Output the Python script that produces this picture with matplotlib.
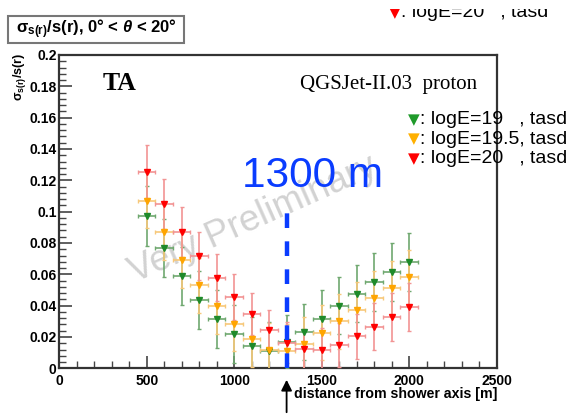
import matplotlib
matplotlib.use("Agg")
import matplotlib.pyplot as plt
from matplotlib.patches import Rectangle
from matplotlib.ticker import MultipleLocator

plt.rcParams['mathtext.fontset'] = 'custom'
plt.rcParams['mathtext.rm'] = 'Liberation Sans:bold'
plt.rcParams['mathtext.it'] = 'Liberation Sans:bold:italic'
plt.rcParams['mathtext.bf'] = 'Liberation Sans:bold'

# ---------------- data ----------------
dist = [500, 600, 700, 800, 900, 1000, 1100, 1200, 1300, 1400, 1500, 1600, 1700, 1800, 1900, 2000]
dist_err = [50] * 16

sig_19 = [0.0973, 0.0769, 0.0588, 0.0434, 0.0313, 0.0220, 0.0143, 0.0112, 0.0170,
          0.0230, 0.0315, 0.0400, 0.0477, 0.0548, 0.0613, 0.0677]
err_19 = [0.019, 0.0186, 0.0186, 0.0185, 0.0185, 0.0185, 0.0185, 0.0185, 0.0170,
          0.018, 0.0185, 0.018, 0.018, 0.0185, 0.0185, 0.0185]

sig_195 = [0.1070, 0.0869, 0.0690, 0.0530, 0.0396, 0.0283, 0.0185, 0.0115, 0.0108,
           0.0152, 0.0226, 0.0300, 0.0375, 0.0449, 0.0513, 0.0580]
err_195 = [0.0175] * 16

sig_20 = [0.1254, 0.1050, 0.0870, 0.0716, 0.0577, 0.0456, 0.0345, 0.0243, 0.0163,
          0.0121, 0.0120, 0.0151, 0.0204, 0.0264, 0.0328, 0.0392]
err_20 = [0.017, 0.016, 0.016, 0.0155, 0.015, 0.0145, 0.0135, 0.013, 0.013,
          0.013, 0.0135, 0.014, 0.0145, 0.015, 0.0155, 0.0155]

series = [
    ("logE=19   , tasd", sig_19, err_19, '#1f8a2a', '#6fa86f'),
    ("logE=19.5, tasd", sig_195, err_195, '#ffa500', '#f7c87a'),
    ("logE=20   , tasd", sig_20, err_20, '#ff0000', '#f29494'),
]

# ---------------- figure ----------------
W, H = 575, 415
fig = plt.figure(figsize=(W / 100, H / 100), dpi=100)
ax = fig.add_axes([59.3 / W, 1 - 368.3 / H, 437.2 / W, 313.3 / H])

for label, y, yerr, mcol, ecol in series:
    ax.errorbar(dist, y, xerr=dist_err, yerr=yerr, fmt='v', color=mcol, ms=4.5,
                ecolor=ecol, elinewidth=1.2, capsize=1.5, capthick=1.0, zorder=3)

ax.set_xlim(0, 2500)
ax.set_ylim(0, 0.2)
ax.xaxis.set_major_locator(MultipleLocator(500))
ax.xaxis.set_minor_locator(MultipleLocator(100))
ax.yaxis.set_minor_locator(MultipleLocator(0.004))
ax.set_yticks([0, 0.02, 0.04, 0.06, 0.08, 0.1, 0.12, 0.14, 0.16, 0.18, 0.2])
ax.set_yticklabels(['0', '0.02', '0.04', '0.06', '0.08', '0.1', '0.12', '0.14', '0.16', '0.18', '0.2'])
ax.tick_params(which='both', direction='in', top=False, right=False, colors='#444444',
               labelcolor='black')
ax.tick_params(which='major', length=9, width=1.2)
ax.tick_params(which='minor', length=5, width=1.0)
ax.tick_params(axis='x', pad=4)
ax.tick_params(axis='y', pad=2)
for lab in ax.get_xticklabels() + ax.get_yticklabels():
    lab.set_fontfamily('Liberation Sans')
    lab.set_fontweight('bold')
    lab.set_fontsize(10)
for s in ax.spines.values():
    s.set_linewidth(1.6)
    s.set_color('#333333')

# watermark
ax.text(1110, 0.0948, 'Very Preliminary', fontsize=26.5, family='Liberation Sans',
        color='#d2d2d2', rotation=24, ha='center', va='center',
        rotation_mode='anchor', zorder=1)

# 1300 m marker
ax.plot([1300, 1300], [0, 0.1], color='#0a3cff', lw=3.2, dashes=(3.3, 3.0),
        solid_capstyle='butt', dash_capstyle='butt', zorder=4)
ax.text(1445, 0.1156, '1300 m', fontsize=30.5, family='Liberation Sans',
        color='#0a3cff', ha='center', va='baseline', zorder=5)

# TA / model label
fig.text(103 / W, 1 - 90 / H, 'TA', fontsize=18.5, family='Liberation Serif',
         fontweight='bold', ha='left', va='baseline')
fig.text(477 / W, 1 - 89.5 / H, 'QGSJet-II.03  proton', fontsize=15,
         family='Liberation Serif', ha='right', va='baseline')

# legend texts
tri_cols = ['#1f9a2a', '#ffb000', '#ff0000']
baselines = [124, 143.5, 163]
for (label, *_), c, b in zip(series, tri_cols, baselines):
    fig.text(408 / W, 1 - b / H, '\u25BC', color=c, fontsize=11,
             family='DejaVu Sans', ha='left', va='baseline')
    fig.text(420 / W, 1 - b / H, ': ' + label, color='black', fontsize=14,
             family='Liberation Sans', ha='left', va='baseline')

# partially hidden text at top
fig.text(389 / W, 1 - 17 / H, '\u25BC', color='#ff0000', fontsize=11,
         family='DejaVu Sans', ha='left', va='baseline')
fig.text(401 / W, 1 - 17 / H, ': logE=20   , tasd', color='black', fontsize=14,
         family='Liberation Sans', ha='left', va='baseline')
fig.patches.append(Rectangle((0, 1 - 9 / H), 1, 9 / H, transform=fig.transFigure,
                             facecolor='white', edgecolor='none', zorder=10))

# title box
fig.patches.append(Rectangle((8 / W, 1 - 43 / H), 176 / W, 27 / H,
                             transform=fig.transFigure, facecolor='white',
                             edgecolor='#777777', lw=1.5, zorder=11))
fig.text(16 / W, 1 - 29.5 / H,
         r'$\mathrm{\sigma}_{\mathrm{s(r)}}$/s(r), 0° < $\theta$ < 20°',
         fontsize=12, family='Liberation Sans', fontweight='bold',
         ha='left', va='center', zorder=12)

# y label
fig.text(20 / W, 1 - 53 / H, r'$\mathrm{\sigma}_{\mathrm{s(r)}}$/s(r)',
         fontsize=9, family='Liberation Sans', fontweight='bold',
         rotation=90, ha='center', va='top')

# x label
fig.text(497 / W, 1 - 398 / H, 'distance from shower axis [m]', fontsize=10.2,
         family='Liberation Sans', fontweight='bold', ha='right', va='baseline')

# arrow below the axis at 1300 m
ax.annotate('', xy=(286.6 / W, 1 - 377 / H), xytext=(286.6 / W, 0.0),
            xycoords='figure fraction', textcoords='figure fraction',
            arrowprops=dict(arrowstyle='-|>', color='black', lw=1.3,
                            mutation_scale=16), annotation_clip=False)

fig.savefig('out.png', dpi=100)
